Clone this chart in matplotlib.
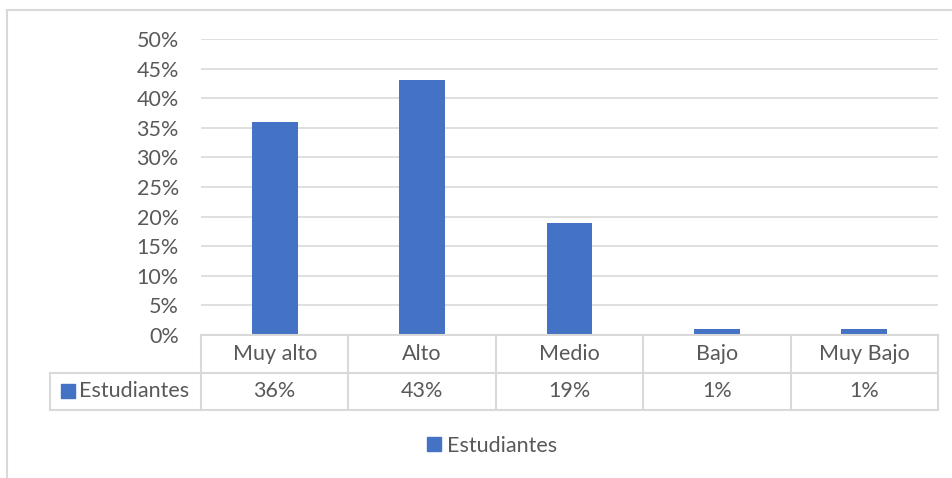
import matplotlib.pyplot as plt
from matplotlib.patches import Rectangle
from matplotlib.lines import Line2D
import numpy as np

# datos
categorias = ["Muy alto", "Alto", "Medio", "Bajo", "Muy Bajo"]
estudiantes = [0.36, 0.43, 0.19, 0.01, 0.01]
etiquetas = ["36%", "43%", "19%", "1%", "1%"]
serie = "Estudiantes"
yticks = [0, 0.05, 0.10, 0.15, 0.20, 0.25, 0.30, 0.35, 0.40, 0.45, 0.50]

azul = "#4472C4"
gris_txt = "#595959"
gris_lin = "#d9d9d9"
plt.rcParams['font.family'] = ['Lato', 'DejaVu Sans']
fs = 15.5

W, H = 952, 478
fig = plt.figure(figsize=(W / 100, H / 100), dpi=100)


def px(x0, y0, x1, y1):
    # caja en pixeles (origen arriba a la izquierda) -> coordenadas de figura
    return [x0 / W, 1 - y1 / H, (x1 - x0) / W, (y1 - y0) / H]


# borde del grafico
fig.patches.append(Rectangle((7 / W, -0.1), 1.2, 1 - 10 / H + 0.1,
                             transform=fig.transFigure, fill=False,
                             edgecolor=gris_lin, linewidth=1.5))

# area de barras
x_left, x_right = 201, 938
ax = fig.add_axes(px(x_left, 39, x_right, 335))
x = np.arange(len(categorias))
ax.bar(x, estudiantes, width=0.31, color=azul, zorder=3)
ax.set_xlim(-0.5, len(categorias) - 0.5)
ax.set_ylim(0, 0.5)
ax.set_yticks(yticks)
ax.set_yticklabels([f"{int(round(t * 100))}%" for t in yticks],
                   fontsize=fs, color=gris_txt)
ax.set_xticks([])
ax.tick_params(axis='y', length=0, pad=16)
ax.grid(axis='y', color=gris_lin, linewidth=1.2, zorder=0)
for s in ax.spines.values():
    s.set_visible(False)

# tabla de datos
unit = (x_right - x_left) / len(categorias)
lab_left = 50
tax = fig.add_axes(px(lab_left, 335, x_right, 410))
xl = -0.5 - (x_left - lab_left) / unit
tax.set_xlim(xl, len(categorias) - 0.5)
tax.set_ylim(0, 2)
tax.axis('off')
lk = dict(color=gris_lin, linewidth=1.5, clip_on=False)
tax.plot([-0.5, len(categorias) - 0.5], [2, 2], **lk)
tax.plot([xl, len(categorias) - 0.5], [1, 1], **lk)
tax.plot([xl, len(categorias) - 0.5], [0, 0], **lk)
tax.plot([xl, xl], [0, 1], **lk)
for b in np.arange(len(categorias) + 1) - 0.5:
    tax.plot([b, b], [0, 2], **lk)
for i, (c, e) in enumerate(zip(categorias, etiquetas)):
    tax.text(i, 1.5, c, ha='center', va='center', fontsize=fs, color=gris_txt)
    tax.text(i, 0.5, e, ha='center', va='center', fontsize=fs, color=gris_txt)
tax.plot([xl + 0.12], [0.5], marker='s', markersize=10, color=azul, clip_on=False)
tax.text(xl + 0.2, 0.5, serie, ha='left', va='center', fontsize=fs, color=gris_txt)

# leyenda
h = Line2D([], [], marker='s', linestyle='none', markersize=10, color=azul)
fig.legend([h], [serie], loc='center', bbox_to_anchor=(490 / W, 1 - 446 / H),
           frameon=False, fontsize=fs, labelcolor=gris_txt,
           handletextpad=0.1, handlelength=1.0)

fig.savefig("out.png", dpi=100)
